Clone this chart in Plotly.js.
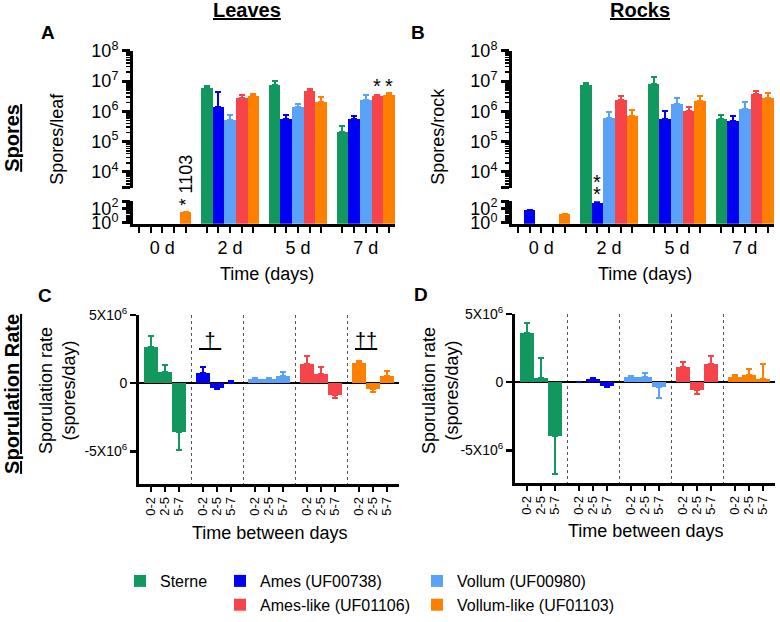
<!DOCTYPE html>
<html><head><meta charset="utf-8">
<script src="https://cdn.plot.ly/plotly-3.0.1.min.js"></script>
<style>html,body{margin:0;padding:0;background:#fff}</style>
</head><body><div id="chart" style="width:780px;height:622px"></div>
<script>
// ---------------- DATA ----------------
const strains = ["Sterne", "Ames (UF00738)", "Vollum (UF00980)", "Ames-like (UF01106)", "Vollum-like (UF01103)"];
const colors = ["#12985F", "#0000F2", "#5AA2F8", "#F5444A", "#FF8000"];
const days = ["0 d", "2 d", "5 d", "7 d"];
const intervals = ["0-2", "2-5", "5-7"];

// A: spores per leaf (null = none detected)
const leavesSterne     = [null, 5.9e6, 7.4e6, 2.1e5];
const leavesAmes       = [null, 1.35e6, 5.5e5, 5.5e5];
const leavesVollum     = [null, 5.1e5, 1.35e6, 2.4e6];
const leavesAmesLike   = [null, 2.8e6, 4.8e6, 3.2e6];
const leavesVollumLike = [30, 3.3e6, 2.1e6, 3.4e6];
const leavesSterneErr     = [null, 1.0e6, 2.6e6, 1.2e5];
const leavesAmesErr       = [null, 3.0e6, 2.4e5, 1.4e5];
const leavesVollumErr     = [null, 2.3e5, 4.5e5, 1.1e6];
const leavesAmesLikeErr   = [null, 7e5, 7e5, 3e5];
const leavesVollumLikeErr = [3, 5e5, 9e5, 6e5];

// B: spores per rock
const rocksSterne     = [null, 7.4e6, 7.9e6, 5.5e5];
const rocksAmes       = [54, 550, 5.5e5, 4.7e5];
const rocksVollum     = [null, 6.3e5, 1.7e6, 1.2e6];
const rocksAmesLike   = [null, 2.3e6, 1.0e6, 3.8e6];
const rocksVollumLike = [14, 6.9e5, 2.2e6, 2.8e6];
const rocksSterneErr     = [null, 1.5e6, 5.6e6, 2.4e5];
const rocksAmesErr       = [8, 100, 4.5e5, 2.2e5];
const rocksVollumErr     = [null, 3e5, 1.1e6, 9e5];
const rocksAmesLikeErr   = [null, 9e5, 3.5e5, 1.0e6];
const rocksVollumLikeErr = [2, 4.6e5, 1.1e6, 1.3e6];

// C: sporulation rate on leaves (spores/day)
const rateLeavesSterne     = [2.64e6, 0.79e6, -3.57e6];
const rateLeavesAmes       = [0.71e6, -0.36e6, 0.03e6];
const rateLeavesVollum     = [0.29e6, 0.30e6, 0.55e6];
const rateLeavesAmesLike   = [1.38e6, 0.64e6, -0.86e6];
const rateLeavesVollumLike = [1.50e6, -0.40e6, 0.50e6];
const rateLeavesSterneErr     = [0.79e6, 0.50e6, 1.36e6];
const rateLeavesAmesErr       = [0.43e6, 0.10e6, 0.15e6];
const rateLeavesVollumErr     = [0.05e6, 0.05e6, 0.24e6];
const rateLeavesAmesLikeErr   = [0.57e6, 0.50e6, 0.21e6];
const rateLeavesVollumLikeErr = [0.14e6, 0.29e6, 0.36e6];

// D: sporulation rate on rocks (spores/day)
const rateRocksSterne     = [3.60e6, 0.29e6, -3.93e6];
const rateRocksAmes       = [0.01e6, 0.24e6, -0.27e6];
const rateRocksVollum     = [0.34e6, 0.36e6, -0.38e6];
const rateRocksAmesLike   = [1.14e6, -0.60e6, 1.33e6];
const rateRocksVollumLike = [0.34e6, 0.55e6, 0.24e6];
const rateRocksSterneErr     = [0.75e6, 1.45e6, 2.83e6];
const rateRocksAmesErr       = [0.02e6, 0.06e6, 0.08e6];
const rateRocksVollumErr     = [0.11e6, 0.27e6, 0.82e6];
const rateRocksAmesLikeErr   = [0.34e6, 0.30e6, 0.60e6];
const rateRocksVollumLikeErr = [0.21e6, 0.39e6, 1.09e6];

// ---------------- BUILD ----------------
const leaves = [leavesSterne, leavesAmes, leavesVollum, leavesAmesLike, leavesVollumLike];
const leavesErr = [leavesSterneErr, leavesAmesErr, leavesVollumErr, leavesAmesLikeErr, leavesVollumLikeErr];
const rocks = [rocksSterne, rocksAmes, rocksVollum, rocksAmesLike, rocksVollumLike];
const rocksErr = [rocksSterneErr, rocksAmesErr, rocksVollumErr, rocksAmesLikeErr, rocksVollumLikeErr];
const rateLeaves = [rateLeavesSterne, rateLeavesAmes, rateLeavesVollum, rateLeavesAmesLike, rateLeavesVollumLike];
const rateLeavesErr = [rateLeavesSterneErr, rateLeavesAmesErr, rateLeavesVollumErr, rateLeavesAmesLikeErr, rateLeavesVollumLikeErr];
const rateRocks = [rateRocksSterne, rateRocksAmes, rateRocksVollum, rateRocksAmesLike, rateRocksVollumLike];
const rateRocksErr = [rateRocksSterneErr, rateRocksAmesErr, rateRocksVollumErr, rateRocksAmesLikeErr, rateRocksVollumLikeErr];
const legendOf = ["legend", "legend2", "legend3", "legend2", "legend3"];

const FONT = "Liberation Sans, Arial, sans-serif";
const W = 780, H = 622;
const fx = p => p / W, fy = p => 1 - p / H;
const STEP_AB = 5.8, STEP_CD = 3.714;
const SPLIT = 1000; // values below go on the lower (broken) segment

const traces = [];
function sporeTraces(xa, yFull, yLow, vals, errs, s, showLegend) {
  const x = days.map((d, g) => g * STEP_AB + s);
  const big = vals.map(v => (v != null && v >= SPLIT) ? v : null);
  const small = vals.map(v => (v != null && v < SPLIT) ? v : null);
  const zeros = vals.map(() => 0);
  const base = {
    type: 'bar', x, xaxis: xa, width: 1, name: strains[s],
    marker: { color: colors[s], line: { width: 0 } }, hoverinfo: 'skip'
  };
  traces.push(Object.assign({}, base, {
    y: big, yaxis: yFull, legend: legendOf[s], showlegend: showLegend,
    error_y: { type: 'data', symmetric: false, array: errs.map((e, k) => big[k] != null ? e : 0),
      arrayminus: zeros, color: colors[s], thickness: 2, width: 3 }
  }));
  traces.push(Object.assign({}, base, {
    y: small, yaxis: yLow, showlegend: false,
    error_y: { type: 'data', symmetric: false, array: errs.map((e, k) => small[k] != null ? e : 0),
      arrayminus: zeros, color: colors[s], thickness: 2, width: 3 }
  }));
}
function rateTrace(xa, ya, vals, errs, s) {
  traces.push({
    type: 'bar', x: intervals.map((d, i) => s * STEP_CD + i), y: vals, xaxis: xa, yaxis: ya,
    width: 0.93, name: strains[s], showlegend: false, hoverinfo: 'skip',
    marker: { color: colors[s], line: { width: 0 } },
    error_y: { type: 'data', symmetric: false,
      array: vals.map((v, k) => v >= 0 ? errs[k] : 0),
      arrayminus: vals.map((v, k) => v < 0 ? errs[k] : 0),
      color: colors[s], thickness: 2, width: 3 }
  });
}
for (let s = 0; s < 5; s++) {
  sporeTraces('x', 'y3', 'y', leaves[s], leavesErr[s], s, true);
  sporeTraces('x2', 'y6', 'y4', rocks[s], rocksErr[s], s, false);
  rateTrace('x3', 'y7', rateLeaves[s], rateLeavesErr[s], s);
  rateTrace('x4', 'y8', rateRocks[s], rateRocksErr[s], s);
}

// axis helpers
const slotVals = [], slotText = [];
days.forEach((d, g) => { for (let s = 0; s < 5; s++) { slotVals.push(g * STEP_AB + s); slotText.push(s === 2 ? d : ''); } });
const rateVals = [], rateText = [], sepVals = [];
for (let s = 0; s < 5; s++) {
  intervals.forEach((iv, i) => { rateVals.push(s * STEP_CD + i); rateText.push(iv); });
  if (s < 4) sepVals.push(s * STEP_CD + 2 + (STEP_CD - 2) / 2);
}
function minorLog(k0, k1) { const v = []; for (let k = k0; k <= k1; k++) for (let m = 2; m <= 9; m++) v.push(m * Math.pow(10, k)); return v; }

const UP_LO = 3.48, UP_HI = 8, LOW_LO = -0.13, LOW_HI = 2.93;
const tickFont = { family: FONT, size: 18, color: '#000' };
const lineCommon = { showline: true, linecolor: '#000', linewidth: 3, showgrid: false, zeroline: false, ticks: 'outside', tickcolor: '#000' };

function xSpore(dom, anchor) {
  return Object.assign({}, lineCommon, {
    domain: dom, anchor, range: [-0.5, 21.9], tickmode: 'array', tickvals: slotVals, ticktext: slotText,
    ticklen: 6, tickwidth: 2, tickfont: tickFont, fixedrange: true
  });
}
function yUp(anchor) {
  return Object.assign({}, lineCommon, {
    domain: [fy(192), fy(52)], anchor, type: 'log', range: [UP_LO, UP_HI],
    tickmode: 'array', tickvals: [Math.pow(10, UP_LO), 1e4, 1e5, 1e6, 1e7, 1e8],
    ticktext: ['', '10<sup>4</sup>', '10<sup>5</sup>', '10<sup>6</sup>', '10<sup>7</sup>', '10<sup>8</sup>'],
    ticklen: 8, tickwidth: 3, tickfont: tickFont,
    minor: { tickmode: 'array', tickvals: minorLog(3, 7), ticks: 'outside', ticklen: 4, tickwidth: 1.5, tickcolor: '#000', showgrid: false }
  });
}
function yLow(anchor) {
  return Object.assign({}, lineCommon, {
    domain: [fy(229), fy(206)], anchor, type: 'log', range: [LOW_LO, LOW_HI],
    tickmode: 'array', tickvals: [1, 100, Math.pow(10, LOW_HI)],
    ticktext: ['10<sup>0</sup>', '10<sup>2</sup>', ''],
    ticklen: 8, tickwidth: 3, tickfont: tickFont,
    minor: { tickmode: 'array', tickvals: minorLog(0, 2), ticks: 'outside', ticklen: 4, tickwidth: 1.5, tickcolor: '#000', showgrid: false }
  });
}
function yFull(anchor) {
  return { domain: [fy(229), fy(52)], anchor, type: 'log', range: [UP_HI - (229 - 52) / 31, UP_HI], visible: false, showgrid: false, zeroline: false };
}
function xRate(dom, anchor) {
  return Object.assign({}, lineCommon, {
    domain: dom, anchor, range: [-0.857, 4 * STEP_CD + 2.857], tickmode: 'array', tickvals: rateVals, ticktext: rateText,
    tickangle: -90, ticklen: 5, tickwidth: 2, tickfont: { family: FONT, size: 13, color: '#000' },
    minor: { tickmode: 'array', tickvals: sepVals, ticks: '', showgrid: true, gridcolor: '#555', gridwidth: 1, griddash: 'dot' }
  });
}
function yRate(dom, anchor) {
  return Object.assign({}, lineCommon, {
    domain: dom, anchor, range: [-7.38e6, 5e6], tickmode: 'array', tickvals: [-5e6, 0, 5e6],
    ticktext: ['-5X10<sup>6</sup>', '0', '5X10<sup>6</sup>'], ticklen: 6, tickwidth: 2.5,
    tickfont: { family: FONT, size: 14, color: '#000' },
    zeroline: true, zerolinecolor: '#000', zerolinewidth: 2.5
  });
}

function txt(text, x, y, size, opts) {
  return Object.assign({ text, x, y, xref: 'paper', yref: 'paper', showarrow: false, xanchor: 'center', yanchor: 'middle',
    font: { family: FONT, size, color: '#000' } }, opts || {});
}
const U = t => '<span style="text-decoration:underline">' + t + '</span>';
const annotations = [
  txt('<b>' + U('Leaves') + '</b>', fx(247), fy(10), 20),
  txt('<b>' + U('Rocks') + '</b>', fx(640), fy(10), 20),
  txt('<b>' + U('Spores') + '</b>', fx(12), fy(141), 20, { textangle: -90 }),
  txt('<b>' + U('Sporulation Rate') + '</b>', fx(12), fy(403), 20, { textangle: -90 }),
  txt('<b>A</b>', fx(48), fy(33), 19),
  txt('<b>B</b>', fx(418), fy(33), 19),
  txt('<b>C</b>', fx(45), fy(302), 19),
  txt('<b>D</b>', fx(421), fy(301), 19),
  txt('Spores/leaf', fx(57), fy(142), 18, { textangle: -90 }),
  txt('Spores/rock', fx(438), fy(140), 18, { textangle: -90 }),
  txt('Time (days)', fx(267), fy(280), 18),
  txt('Time (days)', fx(645), fy(280), 18),
  txt('Sporulation rate<br>(spores/day)', fx(58), fy(400), 18, { textangle: -90 }),
  txt('Sporulation rate<br>(spores/day)', fx(441), fy(400), 18, { textangle: -90 }),
  txt('Time between days', fx(269), fy(545), 18),
  txt('Time between days', fx(645), fy(543), 18),
  // significance marks
  txt('* 1103', 4, fy(184), 18, { xref: 'x', textangle: -90 }),
  txt('*', 3 * STEP_AB + 3, fy(88), 20, { xref: 'x' }),
  txt('*', 3 * STEP_AB + 4, fy(88), 20, { xref: 'x' }),
  txt('*', 1 * STEP_AB + 1, fy(186), 20, { xref: 'x2' }),
  txt('*', 1 * STEP_AB + 1, fy(198), 20, { xref: 'x2' }),
  txt(U('&nbsp;†&nbsp;'), 1 * STEP_CD + 0.5, fy(348), 20, { xref: 'x3' }),
  txt(U('††'), 4 * STEP_CD + 0.5, fy(348), 20, { xref: 'x3' })
];

const legendBase = { orientation: 'v', yanchor: 'top', y: fy(577), xanchor: 'left', font: { family: FONT, size: 16, color: '#000' },
  bgcolor: 'rgba(0,0,0,0)', borderwidth: 0, tracegroupgap: 0, itemclick: false, itemdoubleclick: false };

const layout = {
  width: W, height: H, margin: { l: 0, r: 0, t: 0, b: 0 },
  paper_bgcolor: '#fff', plot_bgcolor: 'rgba(0,0,0,0)',
  font: { family: FONT, color: '#000' },
  barmode: 'overlay', bargap: 0,
  xaxis: xSpore([fx(133), fx(395)], 'y'),
  yaxis: yLow('x'), yaxis2: yUp('x'), yaxis3: yFull('x'),
  xaxis2: xSpore([fx(512), fx(774)], 'y4'),
  yaxis4: yLow('x2'), yaxis5: yUp('x2'), yaxis6: yFull('x2'),
  xaxis3: xRate([fx(139), fx(399)], 'y7'),
  yaxis7: yRate([fy(495), fy(322)], 'x3'),
  xaxis4: xRate([fx(515), fx(775)], 'y8'),
  yaxis8: yRate([fy(494), fy(321)], 'x4'),
  legend: Object.assign({}, legendBase, { x: fx(120) }),
  legend2: Object.assign({}, legendBase, { x: fx(220) }),
  legend3: Object.assign({}, legendBase, { x: fx(417) }),
  annotations,
  showlegend: true
};
// empty traces so the visible upper axes have a subplot
traces.push({ type: 'scatter', x: [], y: [], xaxis: 'x', yaxis: 'y2', showlegend: false, hoverinfo: 'skip' });
traces.push({ type: 'scatter', x: [], y: [], xaxis: 'x2', yaxis: 'y5', showlegend: false, hoverinfo: 'skip' });

Plotly.newPlot('chart', traces, layout, { staticPlot: true, displayModeBar: false });
</script></body></html>
